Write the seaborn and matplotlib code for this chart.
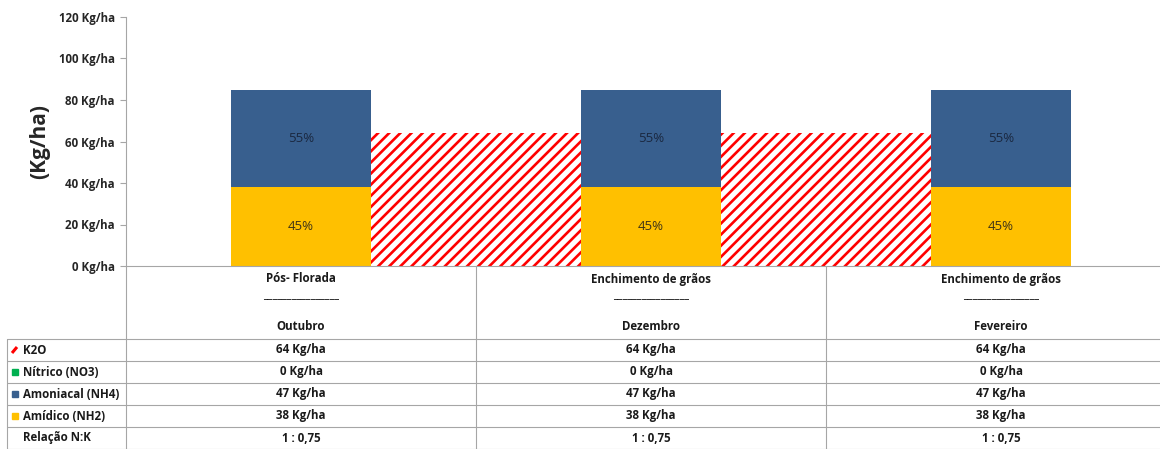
import numpy as np
import matplotlib
matplotlib.use('Agg')
import matplotlib.pyplot as plt
import seaborn as sns

# Data
categories = ['Pós- Florada', 'Enchimento de grãos', 'Enchimento de grãos']
months = ['Outubro', 'Dezembro', 'Fevereiro']
k2o = [64, 64, 64]
nitrico = [0, 0, 0]
amoniacal = [47, 47, 47]
amidico = [38, 38, 38]
relacao = ['1 : 0,75', '1 : 0,75', '1 : 0,75']
pct_amoniacal = ['55%', '55%', '55%']
pct_amidico = ['45%', '45%', '45%']
yticks = [0, 20, 40, 60, 80, 100, 120]

BLUE = '#385F8E'
YELLOW = '#FFC000'
GREEN = '#00B050'
RED = '#FF0000'
GRID = '#A6A6A6'
FS = 8.3

sns.set_theme(style='white')
plt.rcParams['font.family'] = ['Open Sans', 'DejaVu Sans']
plt.rcParams['hatch.linewidth'] = 1.9

W, H = 1160, 449
fig = plt.figure(figsize=(W / 100, H / 100), dpi=100)
ax = fig.add_axes([126 / W, 183 / H, 1050 / W, 249 / H])

# K2O as hatched area behind the bars
x = np.arange(len(categories))
ax.fill_between(x, 0, k2o, facecolor='white', edgecolor=RED, hatch='///',
                linewidth=0, zorder=0.5)

# stacked bars drawn as cumulative totals
tot_nit = np.array(amidico) + np.array(amoniacal) + np.array(nitrico)
tot_amo = np.array(amidico) + np.array(amoniacal)
df_x = [f'c{i}' for i in range(len(categories))]
sns.barplot(x=df_x, y=tot_nit, color=GREEN, width=0.4, saturation=1,
            errorbar=None, linewidth=0, ax=ax, zorder=2)
sns.barplot(x=df_x, y=tot_amo, color=BLUE, width=0.4, saturation=1,
            errorbar=None, linewidth=0, ax=ax, zorder=2)
sns.barplot(x=df_x, y=amidico, color=YELLOW, width=0.4, saturation=1,
            errorbar=None, linewidth=0, ax=ax, zorder=2)

for i in range(len(categories)):
    ax.text(i, amidico[i] + amoniacal[i] / 2, pct_amoniacal[i], ha='center',
            va='center', fontsize=9.5, color='#1a2840', zorder=3)
    ax.text(i, amidico[i] / 2, pct_amidico[i], ha='center', va='center',
            fontsize=9.5, color='#3d3318', zorder=3)

ax.set_xlim(-0.5, 2.5)
ax.set_ylim(0, 120)
ax.set_yticks(yticks)
ax.set_yticklabels([f'{v} Kg/ha' for v in yticks], fontsize=FS, fontweight='bold',
                   color='#262626')
ax.tick_params(axis='y', left=True, length=4, width=0.8, color=GRID, pad=4)
ax.tick_params(axis='x', bottom=False, labelbottom=False)
ax.set_xlabel('')
ax.set_ylabel('')
for s in ['top', 'right']:
    ax.spines[s].set_visible(False)
for s in ['left', 'bottom']:
    ax.spines[s].set_color(GRID)
    ax.spines[s].set_linewidth(0.8)

fig.text(40 / W, 1 - 142 / H, '(Kg/ha)', rotation=90, ha='center', va='center',
         fontsize=15, fontweight='bold', color='#262626')

# ---- data table below the axis ----
tr = ax.get_xaxis_transform()


def px2x(px):
    return (px - 126) / 350 - 0.5


def px2y(py):
    return (266 - py) / 249


def line(xs, ys):
    ax.plot(xs, ys, color=GRID, lw=0.8, transform=tr, clip_on=False, zorder=1)


row_bounds = [339, 361, 383, 405, 427, 449]
left = px2x(7)
right = 2.6
for yb in row_bounds:
    line([left, right], [px2y(yb)] * 2)
line([left, left], [px2y(339), px2y(449)])
for i in range(len(categories)):
    xb = i - 0.5
    line([xb, xb], [0, px2y(449)])
line([2.5, 2.5], [0, px2y(449)])

tk = dict(ha='center', va='center', fontsize=FS, fontweight='bold', color='#1a1a1a',
          transform=tr, clip_on=False)
for i in range(len(categories)):
    ax.text(i, px2y(279), categories[i], **tk)
    ax.text(i, px2y(295), '_' * 16, **tk)
    ax.text(i, px2y(327), months[i], **tk)

row_labels = ['K2O', 'Nítrico (NO3)', 'Amoniacal (NH4)', 'Amídico (NH2)', 'Relação N:K']
row_values = [
    [f'{v} Kg/ha' for v in k2o],
    [f'{v} Kg/ha' for v in nitrico],
    [f'{v} Kg/ha' for v in amoniacal],
    [f'{v} Kg/ha' for v in amidico],
    relacao,
]
row_colors = [RED, GREEN, BLUE, YELLOW, None]
for r in range(len(row_labels)):
    yc = px2y((row_bounds[r] + row_bounds[r + 1]) / 2)
    ax.text(px2x(23), yc, row_labels[r], ha='left', va='center', fontsize=FS,
            fontweight='bold', color='#1a1a1a', transform=tr, clip_on=False)
    c = row_colors[r]
    if r == 0:
        ax.plot([px2x(12), px2x(17)], [yc - 0.012, yc + 0.012], color=c, lw=2.2,
                transform=tr, clip_on=False, solid_capstyle='butt')
    elif c is not None:
        ax.plot([px2x(15)], [yc], marker='s', ms=5, color=c, mec=c,
                transform=tr, clip_on=False)
    for i in range(len(categories)):
        ax.text(i, yc, row_values[r][i], **tk)

fig.savefig('out.png', dpi=100)
